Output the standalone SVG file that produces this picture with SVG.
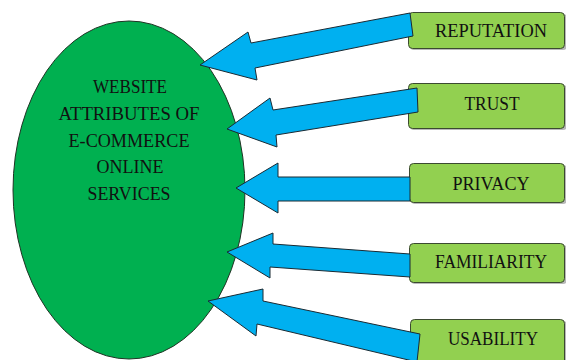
<svg xmlns="http://www.w3.org/2000/svg" width="566" height="360" viewBox="0 0 566 360">
<style>
.lbl{font-family:"Liberation Serif","Times New Roman",serif;font-size:18px;fill:#111;text-anchor:middle}
.box{fill:#92D050;stroke:#3b4a30;stroke-width:1}
.shd{fill:#b8b8b8}
.arr{fill:#00B0F0;stroke:#1a2a33;stroke-width:1;stroke-linejoin:miter}
</style>
<rect width="566" height="360" fill="#fff"/>
<g id="center">
<ellipse cx="129" cy="190" rx="116" ry="169" fill="#00B050" stroke="#1f3324" stroke-width="1"/>
<text class="lbl" x="130" y="93" textLength="74" lengthAdjust="spacingAndGlyphs">WEBSITE</text>
<text class="lbl" x="129" y="120" textLength="141" lengthAdjust="spacingAndGlyphs">ATTRIBUTES  OF</text>
<text class="lbl" x="129" y="147" textLength="121" lengthAdjust="spacingAndGlyphs">E-COMMERCE</text>
<text class="lbl" x="130" y="173" textLength="67" lengthAdjust="spacingAndGlyphs">ONLINE</text>
<text class="lbl" x="129" y="200" textLength="83" lengthAdjust="spacingAndGlyphs">SERVICES</text>
</g>
<g id="reputation">
<rect class="shd" x="410" y="14" width="157" height="36" rx="4"/>
<rect class="box" x="408.500" y="12.500" width="156" height="36" rx="4"/>
<text class="lbl" x="491" y="37" textLength="112" lengthAdjust="spacingAndGlyphs">REPUTATION</text>
</g>
<g id="trust">
<rect class="shd" x="410" y="85" width="157" height="45" rx="4"/>
<rect class="box" x="408.500" y="83.500" width="156" height="45" rx="4"/>
<text class="lbl" x="492" y="110" textLength="55" lengthAdjust="spacingAndGlyphs">TRUST</text>
</g>
<g id="privacy">
<rect class="shd" x="411" y="165" width="156" height="39" rx="4"/>
<rect class="box" x="409.500" y="163.500" width="155" height="39" rx="4"/>
<text class="lbl" x="491" y="190" textLength="77" lengthAdjust="spacingAndGlyphs">PRIVACY</text>
</g>
<g id="familiarity">
<rect class="shd" x="411" y="245" width="156" height="39" rx="4"/>
<rect class="box" x="409.500" y="243.500" width="155" height="39" rx="4"/>
<text class="lbl" x="491" y="268" textLength="112" lengthAdjust="spacingAndGlyphs">FAMILIARITY</text>
</g>
<g id="usability">
<rect class="shd" x="412" y="321" width="155" height="50" rx="4"/>
<rect class="box" x="410.500" y="319.500" width="154" height="50" rx="4"/>
<text class="lbl" x="493" y="345" textLength="90" lengthAdjust="spacingAndGlyphs">USABILITY</text>
</g>
<g id="connectors">
<polygon class="arr" points="410,13 413,36 255,68 257,80 200,65 248,32 251,43"/>
<polygon class="arr" points="417,88 418,112 276,135 277,147 227,129 270,98 273,110"/>
<polygon class="arr" points="410,177 410,201 278,201 278,213 236,188 278,163 278,177"/>
<polygon class="arr" points="410,254 410,277 270,267 270,278 227,252 273,233 273,244"/>
<polygon class="arr" points="420,334 417,362 257,324 256,336 208,301 263,289 263,301"/>
</g>
</svg>
